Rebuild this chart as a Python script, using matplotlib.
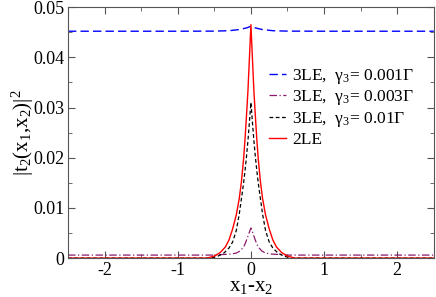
import matplotlib
matplotlib.use("Agg")
import matplotlib.pyplot as plt
from matplotlib.ticker import MultipleLocator, FuncFormatter

plt.rcParams['font.family'] = ['Liberation Serif', 'DejaVu Serif']
plt.rcParams['mathtext.fontset'] = 'custom'
plt.rcParams['mathtext.rm'] = 'Liberation Serif'
plt.rcParams['mathtext.it'] = 'Liberation Serif:italic'

# values (x1-x2, |t2|^2), curves are symmetric about 0
x_blue = [0.0, 0.05, 0.15, 0.3, 0.5, 1.0, 2.5]
y_blue = [0.0462, 0.0459, 0.04555, 0.0453, 0.04522, 0.0452, 0.0452]

x_purple = [0.0, 0.025, 0.05, 0.075, 0.1, 0.15, 0.2, 0.28, 0.4, 0.5, 2.5]
y_purple = [0.0060, 0.0050, 0.0040, 0.0030, 0.0022, 0.0014, 0.0010, 0.0008, 0.0007, 0.0006, 0.0006]

x_black = [0.0, 0.02, 0.04, 0.06, 0.08, 0.1, 0.13, 0.16, 0.2, 0.25, 0.3, 0.37, 0.45, 0.55, 2.5]
y_black = [0.031, 0.0272, 0.0235, 0.0203, 0.0175, 0.0150, 0.0118, 0.0087, 0.0055, 0.0032, 0.0020,
           0.0010, 0.0004, 0.0, 0.0]

x_red = [0.0, 0.02, 0.04, 0.06, 0.08, 0.1, 0.13, 0.16, 0.2, 0.25, 0.3, 0.35, 0.42, 0.5, 0.6, 2.5]
y_red = [0.0465, 0.040, 0.0335, 0.0285, 0.0238, 0.0198, 0.0152, 0.0118, 0.0086, 0.0058, 0.0036,
         0.0022, 0.0011, 0.0004, 0.0, 0.0]


def mirror(xs, ys):
    return [-x for x in xs[:0:-1]] + xs, ys[:0:-1] + ys


fig = plt.figure(figsize=(4.36, 2.97), dpi=100)
ax = fig.add_axes([0.156, 0.131, 0.839, 0.845])

ax.plot(*mirror(x_blue, y_blue), color='#0000ff', lw=1.0, dashes=(6, 3), label='3LE,  γ$_3$= 0.001Γ')
ax.plot(*mirror(x_purple, y_purple), color='#8b1a6b', lw=0.9, dashes=(6, 2, 1, 2), label='3LE,  γ$_3$= 0.003Γ')
ax.plot(*mirror(x_black, y_black), color='black', lw=0.9, dashes=(3, 2), label='3LE,  γ$_3$= 0.01Γ')
ax.plot(*mirror(x_red, y_red), color='#ff0000', lw=1.0, label='2LE')

ax.set_xlim(-2.5, 2.5)
ax.set_ylim(0, 0.05)
ax.xaxis.set_major_locator(MultipleLocator(1))
ax.xaxis.set_minor_locator(MultipleLocator(0.5))
ax.yaxis.set_major_locator(MultipleLocator(0.01))
ax.yaxis.set_minor_locator(MultipleLocator(0.005))
ax.yaxis.set_major_formatter(FuncFormatter(lambda v, p: '0' if abs(v) < 1e-9 else '%g' % v))
ax.xaxis.set_major_formatter(FuncFormatter(lambda v, p: '%d' % round(v)))
ax.tick_params(which='both', direction='in', top=True, right=True, labelsize=13, color='#555555', pad=2.5)
ax.tick_params(which='major', length=5)
ax.tick_params(which='minor', length=3)
for s in ax.spines.values():
    s.set_color('#555555')

ax.set_xlabel('x$_1$-x$_2$', fontsize=15, labelpad=-1)
ax.set_ylabel('|t$_2$(x$_1$,x$_2$)|$^2$', fontsize=15, labelpad=-2)

ax.legend(loc='upper left', bbox_to_anchor=(0.53, 0.79), frameon=False, fontsize=12.5,
          handlelength=1.0, handletextpad=0.35, labelspacing=0.15, borderaxespad=0)

fig.savefig('out.png', dpi=100)
